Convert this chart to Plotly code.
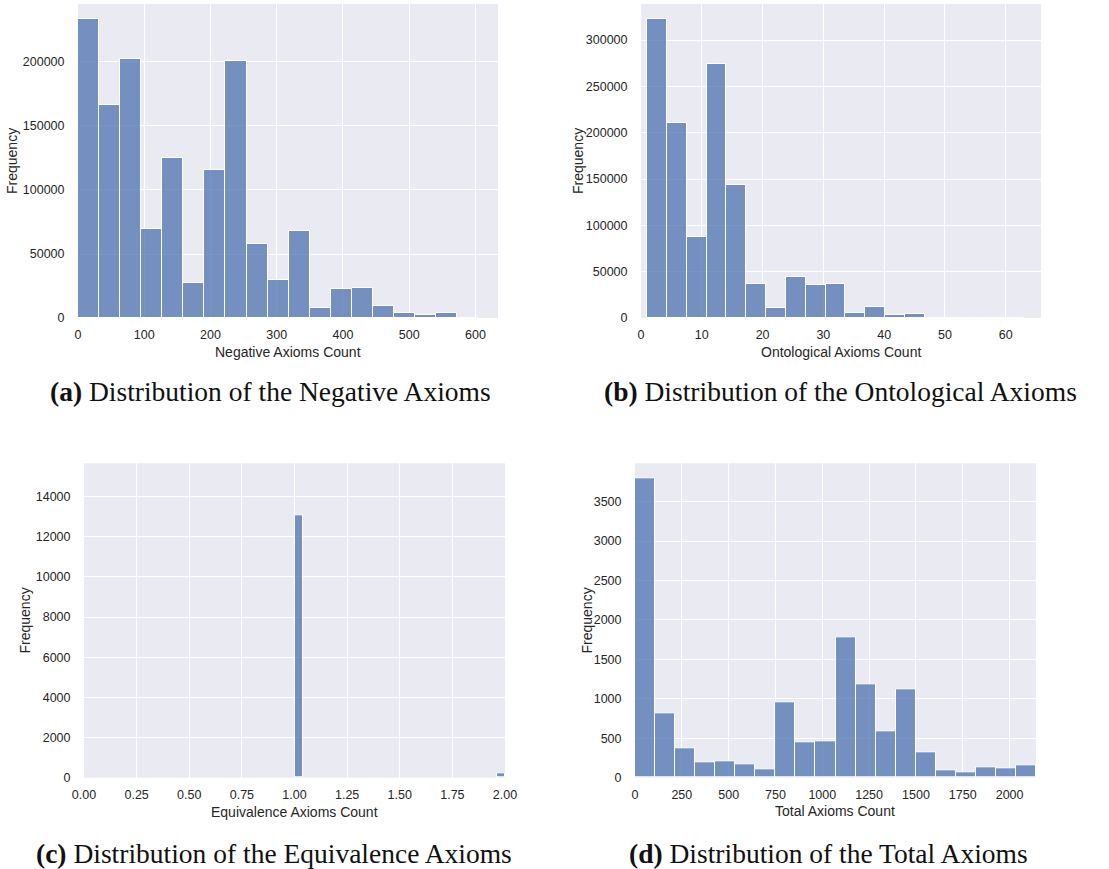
import plotly.graph_objects as go

W, H = 1109, 869

# ---------------- data ----------------
# (a) Negative axioms: 19 bins from 0 to ~604
neg_start = 0.0
neg_width = 31.8
neg_counts = [233300, 166100, 202100, 69500, 124700, 27300, 115900, 200500, 58100,
              29400, 68000, 8100, 22700, 23700, 9400, 3900, 2300, 3900, 0]

# (b) Ontological axioms: 19 bins from 1 to 63
ont_start = 1.0
ont_width = 3.263
ont_counts = [322700, 211000, 87500, 274000, 144000, 36700, 10800, 44300, 36000,
              36700, 5400, 11900, 2900, 4700, 0, 0, 400, 0, 0]

# (c) Equivalence axioms: bins of width 0.04
eq_start = [1.0, 1.96]
eq_width = 0.04
eq_counts = [13060, 232]

# (d) Total axioms: 20 bins from 0 to ~2141
tot_start = 0.0
tot_width = 107.05
tot_counts = [3800, 820, 368, 194, 207, 165, 106, 951, 444, 456,
              1784, 1179, 592, 1124, 325, 97, 63, 127, 118, 161]

x_labels = ["Negative Axioms Count", "Ontological Axioms Count",
            "Equivalence Axioms Count", "Total Axioms Count"]
captions = ["<b>(a)</b> Distribution of the Negative Axioms",
            "<b>(b)</b> Distribution of the Ontological Axioms",
            "<b>(c)</b> Distribution of the Equivalence Axioms",
            "<b>(d)</b> Distribution of the Total Axioms"]

# ---------------- style ----------------
BAR = "rgba(76,114,176,0.75)"
BG = "#eaeaf2"
TXT = "#262626"
SANS = "Liberation Sans, Arial, sans-serif"
SERIF = "Liberation Serif, Times New Roman, serif"


def px_x(p):
    return p / W


def px_y(p):
    return 1 - p / H


# plot-area pixel boxes (left, right, top, bottom)
boxes = [(78, 498, 4, 318), (641, 1041, 4, 318), (84, 505, 463.3, 777.7), (635, 1036, 463.3, 777.7)]

fig = go.Figure()

def centers(start, width, n):
    return [start + width * (i + 0.5) for i in range(n)]

series = [
    (centers(neg_start, neg_width, len(neg_counts)), neg_counts, neg_width),
    (centers(ont_start, ont_width, len(ont_counts)), ont_counts, ont_width),
    ([s + eq_width / 2 for s in eq_start], eq_counts, eq_width),
    (centers(tot_start, tot_width, len(tot_counts)), tot_counts, tot_width),
]

for i, (xs, ys, w) in enumerate(series):
    sfx = "" if i == 0 else str(i + 1)
    fig.add_trace(go.Bar(x=xs, y=ys, width=w, xaxis="x" + sfx, yaxis="y" + sfx,
                         marker=dict(color=BAR, line=dict(color="white", width=1)),
                         showlegend=False, hoverinfo="x+y"))

xranges = [[0, 634], [0, 65.8], [0, 2], [0, 2141]]
yranges = [[0, 245300], [0, 338900], [0, 15660], [0, 3986]]
xdtick = [100, 10, 0.25, 250]
ydtick = [50000, 50000, 2000, 500]
xfmt = ["d", "d", ".2f", "d"]

layout = dict(width=W, height=H, margin=dict(l=0, r=0, t=0, b=0, autoexpand=False),
              paper_bgcolor="white", plot_bgcolor=BG, bargap=0, showlegend=False)

for i, (l, r, t, b) in enumerate(boxes):
    sfx = "" if i == 0 else str(i + 1)
    layout["xaxis" + sfx] = dict(
        domain=[px_x(l), px_x(r)], range=xranges[i], dtick=xdtick[i], tick0=0,
        tickformat=xfmt[i], anchor="y" + sfx, showgrid=True, gridcolor="white", gridwidth=1,
        zeroline=False, showline=False, ticks="outside", ticklen=5, automargin=False,
        tickcolor="rgba(0,0,0,0)", tickfont=dict(family=SANS, size=12.5, color=TXT))
    layout["yaxis" + sfx] = dict(
        domain=[px_y(b), px_y(t)], range=yranges[i], dtick=ydtick[i], tick0=0,
        tickformat="d", anchor="x" + sfx, showgrid=True, gridcolor="white", gridwidth=1,
        zeroline=False, showline=False, ticks="outside", ticklen=10, automargin=False,
        tickcolor="rgba(0,0,0,0)", tickfont=dict(family=SANS, size=12.5, color=TXT))

fig.update_layout(**layout)

# axis titles and captions
xt_y = [352, 352, 811.5, 811]
yt_x = [12, 578, 24, 586]
cap_x = [270, 840, 274, 828]
cap_y = [391, 391, 853, 853]
ann = []
for i, (l, r, t, b) in enumerate(boxes):
    ann.append(dict(text=x_labels[i], x=px_x((l + r) / 2), y=px_y(xt_y[i]), xref="paper", yref="paper",
                    showarrow=False, xanchor="center", yanchor="middle",
                    font=dict(family=SANS, size=14, color=TXT)))
    ann.append(dict(text="Frequency", x=px_x(yt_x[i]), y=px_y((t + b) / 2), xref="paper", yref="paper",
                    showarrow=False, xanchor="center", yanchor="middle", textangle=-90,
                    font=dict(family=SANS, size=14, color=TXT)))
    ann.append(dict(text=captions[i], x=px_x(cap_x[i]), y=px_y(cap_y[i]), xref="paper", yref="paper",
                    showarrow=False, xanchor="center", yanchor="middle",
                    font=dict(family=SERIF, size=27.5, color="#111111")))
fig.update_layout(annotations=ann)

fig.write_html("out.html", config={"displayModeBar": False},
               post_script="document.body.style.margin='0';document.body.style.overflow='hidden';")
